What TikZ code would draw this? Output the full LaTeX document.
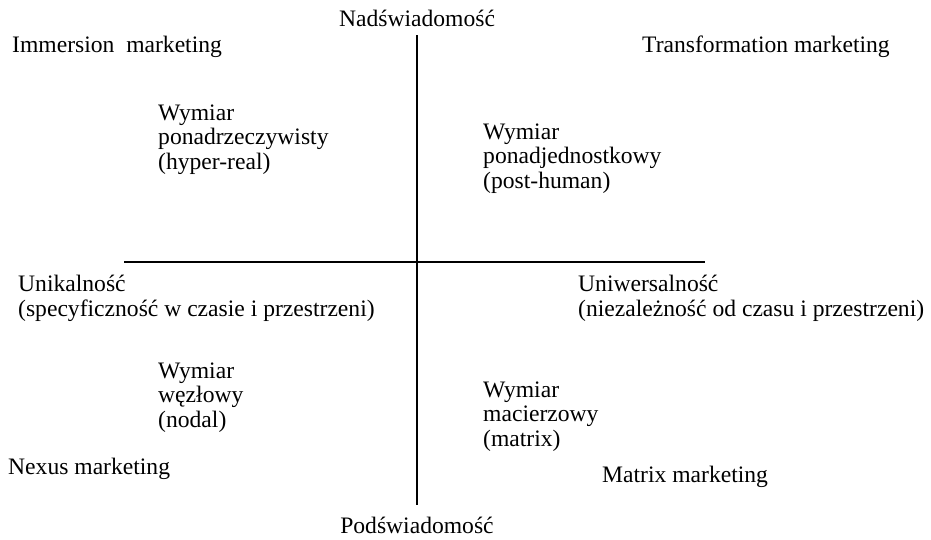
\documentclass[tikz,border=0pt]{standalone}
\usepackage{fontspec}
\setmainfont{Liberation Serif}
\newcommand{\nlx}{\\[-1.8pt]}
\begin{document}
\begin{tikzpicture}[x=1pt,y=-1pt,
  lbl/.style={inner sep=0pt, anchor=base west, align=left, font=\fontsize{23.6}{26.3}\selectfont},
  axis/.style={line width=1.6pt, black}]
\useasboundingbox (0,0) rectangle (931,539);
\coordinate (vtop) at (417,35);
\coordinate (vbot) at (417,505);
\coordinate (hleft) at (124,262);
\coordinate (hright) at (705,262);
\draw[axis] (vtop) -- (vbot);
\draw[axis] (hleft) -- (hright);
\node[lbl, anchor=base] (nad) at (417,26) {Nadświadomość};
\node[lbl, anchor=base] (pod) at (417,533) {Podświadomość};
\node[lbl] (imm) at (12,52) {Immersion\ \ marketing};
\node[lbl] (tra) at (642,52) {Transformation marketing};
\node[lbl] (hyp) at (158,169) {Wymiar\nlx ponadrzeczywisty\nlx (hyper-real)};
\node[lbl] (pos) at (483,188) {Wymiar\nlx ponadjednostkowy\nlx (post-human)};
\node[lbl] (uni) at (18,316) {Unikalność\nlx (specyficzność w czasie i przestrzeni)};
\node[lbl] (uwe) at (578,316) {Uniwersalność\nlx (niezależność od czasu i przestrzeni)};
\node[lbl] (nod) at (158,427) {Wymiar\nlx węzłowy\nlx (nodal)};
\node[lbl] (mat) at (483,446) {Wymiar\nlx macierzowy\nlx (matrix)};
\node[lbl] (nex) at (8,474) {Nexus marketing};
\node[lbl] (mmk) at (602,482) {Matrix marketing};
\end{tikzpicture}
\end{document}
